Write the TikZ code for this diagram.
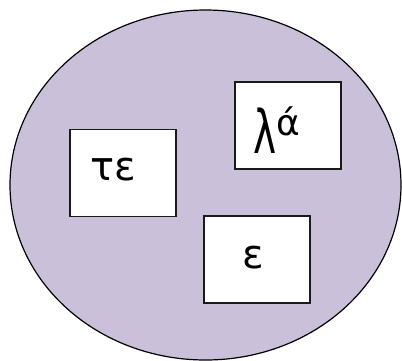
\documentclass[tikz,border=0pt]{standalone}
\usepackage{fontspec}
\setmainfont{DejaVu Sans}
\usepackage{graphicx}
\usetikzlibrary{shapes.geometric}
\definecolor{blobfill}{HTML}{CBC0D9}
\definecolor{boxline}{HTML}{1A1A1A}
\begin{document}
\begin{tikzpicture}[x=1pt,y=-1pt,
  wordbox/.style={draw=boxline,line width=1.2pt,fill=white,minimum width=106pt,minimum height=87pt,inner sep=0pt},
  greek/.style={font=\fontsize{40}{40}\selectfont,inner sep=0pt}]
\useasboundingbox (0,0) rectangle (402,360);
\node[draw=black,line width=1.2pt,fill=blobfill,ellipse,minimum width=391pt,minimum height=350pt,inner sep=0pt] (blob) at (205.5,185) {};
\node[wordbox] (b1) at (123,173) {};
\node[wordbox] (b2) at (288,125.5) {};
\node[wordbox] (b3) at (257,259.5) {};
\node[greek,anchor=base] (t1) at (113,180) {τε};
\node[greek,anchor=base] (t3) at (253,268) {ε};
\node[inner sep=0pt,anchor=base] (t2a) at (265,153) {\scalebox{0.65}[1]{\fontsize{60}{60}\selectfont λ}};
\node[font=\fontsize{36}{36}\selectfont,inner sep=0pt,anchor=base] (t2b) at (288,135) {ά};
\end{tikzpicture}
\end{document}
